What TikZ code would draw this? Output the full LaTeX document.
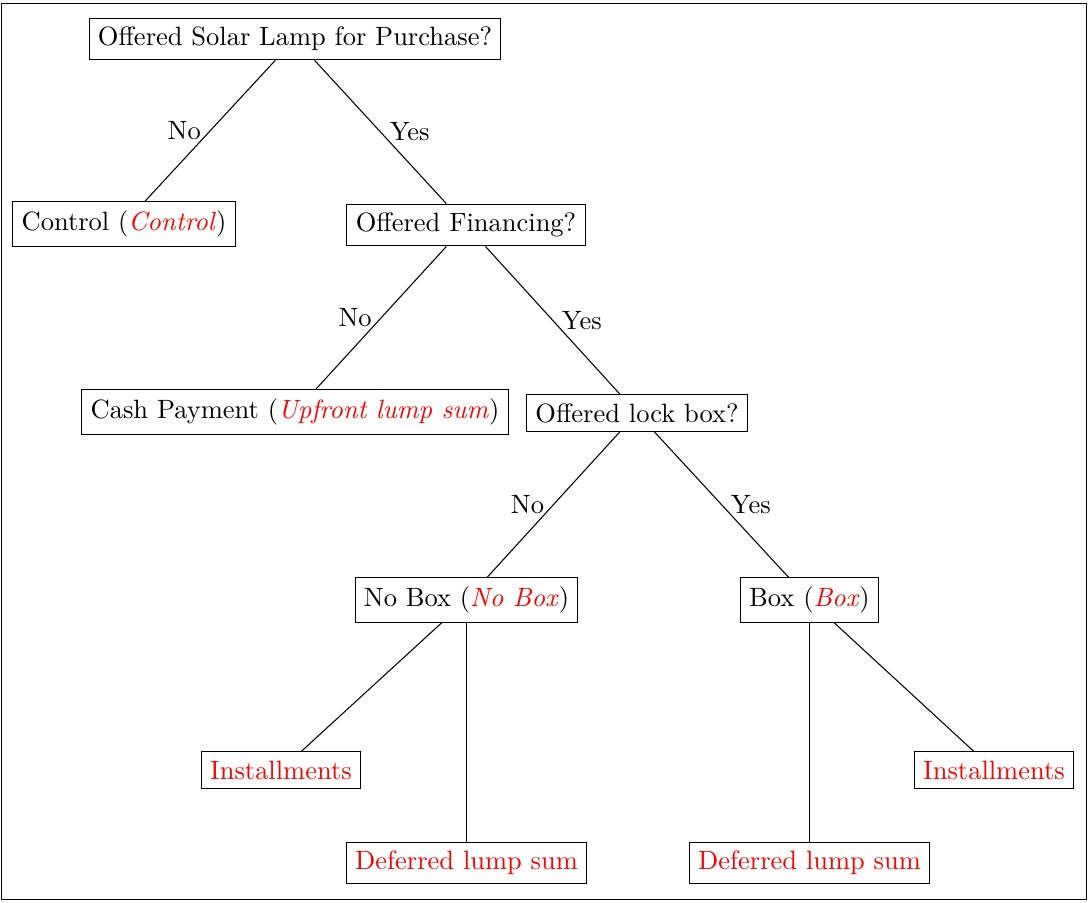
\documentclass[tikz,border=0pt]{standalone}
\begin{document}
\begin{tikzpicture}[x=0.3775pt, y=-0.3775pt,
  box/.style={draw, rectangle},
  arm/.style={text=red}]
  \useasboundingbox (0,0) rectangle (1088,902);
  \draw (1.5,3.5) rectangle (1086.5,899.5);
  % Decision nodes
  \node[box] (root) at (295,39) {Offered Solar Lamp for Purchase?};
  \node[box] (control) at (124,224) {Control (\textcolor{red}{\textit{Control}})};
  \node[box] (finance) at (466,225) {Offered Financing?};
  \node[box] (cash) at (295,412) {Cash Payment (\textcolor{red}{\textit{Upfront lump sum}})};
  \node[box] (lockbox) at (637,413) {Offered lock box?};
  \node[box] (nobox) at (466.5,600) {No Box (\textcolor{red}{\textit{No Box}})};
  \node[box] (box) at (809.5,600) {Box (\textcolor{red}{\textit{Box}})};
  % Leaves
  \node[box, arm] (instA) at (281,770) {Installments};
  \node[box, arm] (lumpA) at (466.5,863) {Deferred lump sum};
  \node[box, arm] (lumpB) at (809.5,863) {Deferred lump sum};
  \node[box, arm] (instB) at (994,770) {Installments};
  % Draw the branches
  \draw (root) -- (control) node[midway, left] {No};
  \draw (root) -- (finance) node[midway, right] {Yes};
  \draw (finance) -- (cash) node[midway, left] {No};
  \draw (finance) -- (lockbox) node[midway, right] {Yes};
  \draw (lockbox) -- (nobox) node[midway, left] {No};
  \draw (lockbox) -- (box) node[midway, right] {Yes};
  \draw (nobox) -- (instA);
  \draw (nobox) -- (lumpA);
  \draw (box) -- (lumpB);
  \draw (box) -- (instB);
\end{tikzpicture}
\end{document}
